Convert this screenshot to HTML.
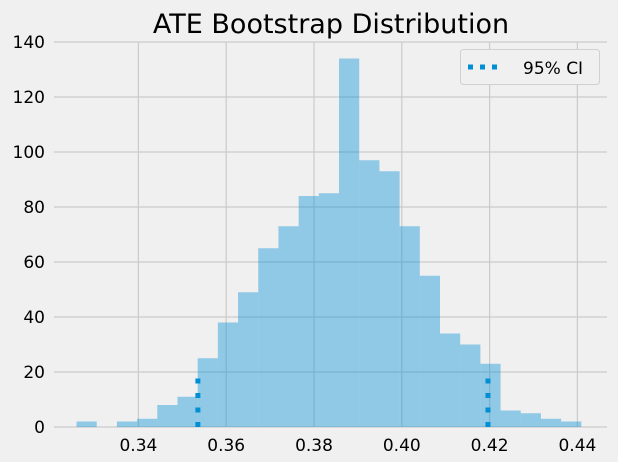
<!DOCTYPE html>
<html><head><meta charset="utf-8"><style>
body{margin:0;background:#f0f0f0;}
svg{display:block;font-family:"DejaVu Sans","Liberation Sans",sans-serif;}
</style></head><body>
<svg id="chart" width="618" height="462">
<rect width="618" height="462" fill="#f0f0f0"/>
<text x="331" y="33" font-size="27" text-anchor="middle" fill="#000">ATE Bootstrap Distribution</text>
<g id="grid"></g><g id="bars"></g><g id="ci"></g><g id="ticks"></g>
<g>
<rect x="460.5" y="49.5" width="139" height="35" rx="3" fill="#f0f0f0" stroke="#d0d0d0"/>
<line x1="468" y1="67" x2="500" y2="67" stroke="#008fd5" stroke-width="5" stroke-dasharray="5 7"/>
<text x="523" y="74" font-size="17" fill="#000">95% CI</text>
</g>
</svg>
<script>
const binStart = 0.3259;
const binWidth = 0.0046;
const counts = [2,0,2,3,8,11,25,38,49,65,73,84,85,134,97,93,73,55,34,30,23,6,5,3,2];
const ciBounds = [0.35355, 0.41963];
const ciHeight = 18;
const xTicks = [0.34,0.36,0.38,0.40,0.42,0.44];
const yTicks = [0,20,40,60,80,100,120,140];
const NS="http://www.w3.org/2000/svg";
const L=54,R=607,T=42,B=427;
const xs=v=>138.4+(v-0.34)*4390;
const ys=v=>B-(v/140)*(B-T);
function mk(t,a,p){const e=document.createElementNS(NS,t);for(const k in a)e.setAttribute(k,a[k]);document.getElementById(p).appendChild(e);return e;}
yTicks.forEach(v=>{
 const g=mk('line',{x1:L,x2:R,y1:ys(v),y2:ys(v),stroke:'#cbcbcb','stroke-width':1.2},'grid');
 
 
 const t=mk('text',{x:45,y:ys(v)+6,'font-size':17,'text-anchor':'end',fill:'#000'},'ticks');
 t.textContent=v;
 
 
});
xTicks.forEach(v=>{
 const g=mk('line',{x1:xs(v),x2:xs(v),y1:T,y2:B,stroke:'#cbcbcb','stroke-width':1.2},'grid');
 
 
 const t=mk('text',{x:xs(v),y:451,'font-size':17,'text-anchor':'middle',fill:'#000'},'ticks');
 t.textContent=v.toFixed(2);
 
 
});
counts.forEach((c,i)=>{
 if(!c)return;
 const x0=xs(binStart+i*binWidth),x1=xs(binStart+(i+1)*binWidth);
 const r=mk('rect',{x:x0,y:ys(c),width:x1-x0,height:ys(0)-ys(c),fill:'#008fd5','fill-opacity':0.4},'bars');
 
 
});
ciBounds.forEach(v=>{
 const l=mk('line',{x1:xs(v),x2:xs(v),y1:ys(0),y2:ys(ciHeight),stroke:'#008fd5','stroke-width':5,'stroke-dasharray':'5 9.5'},'ci');
 
 
});
</script>
</body></html>
